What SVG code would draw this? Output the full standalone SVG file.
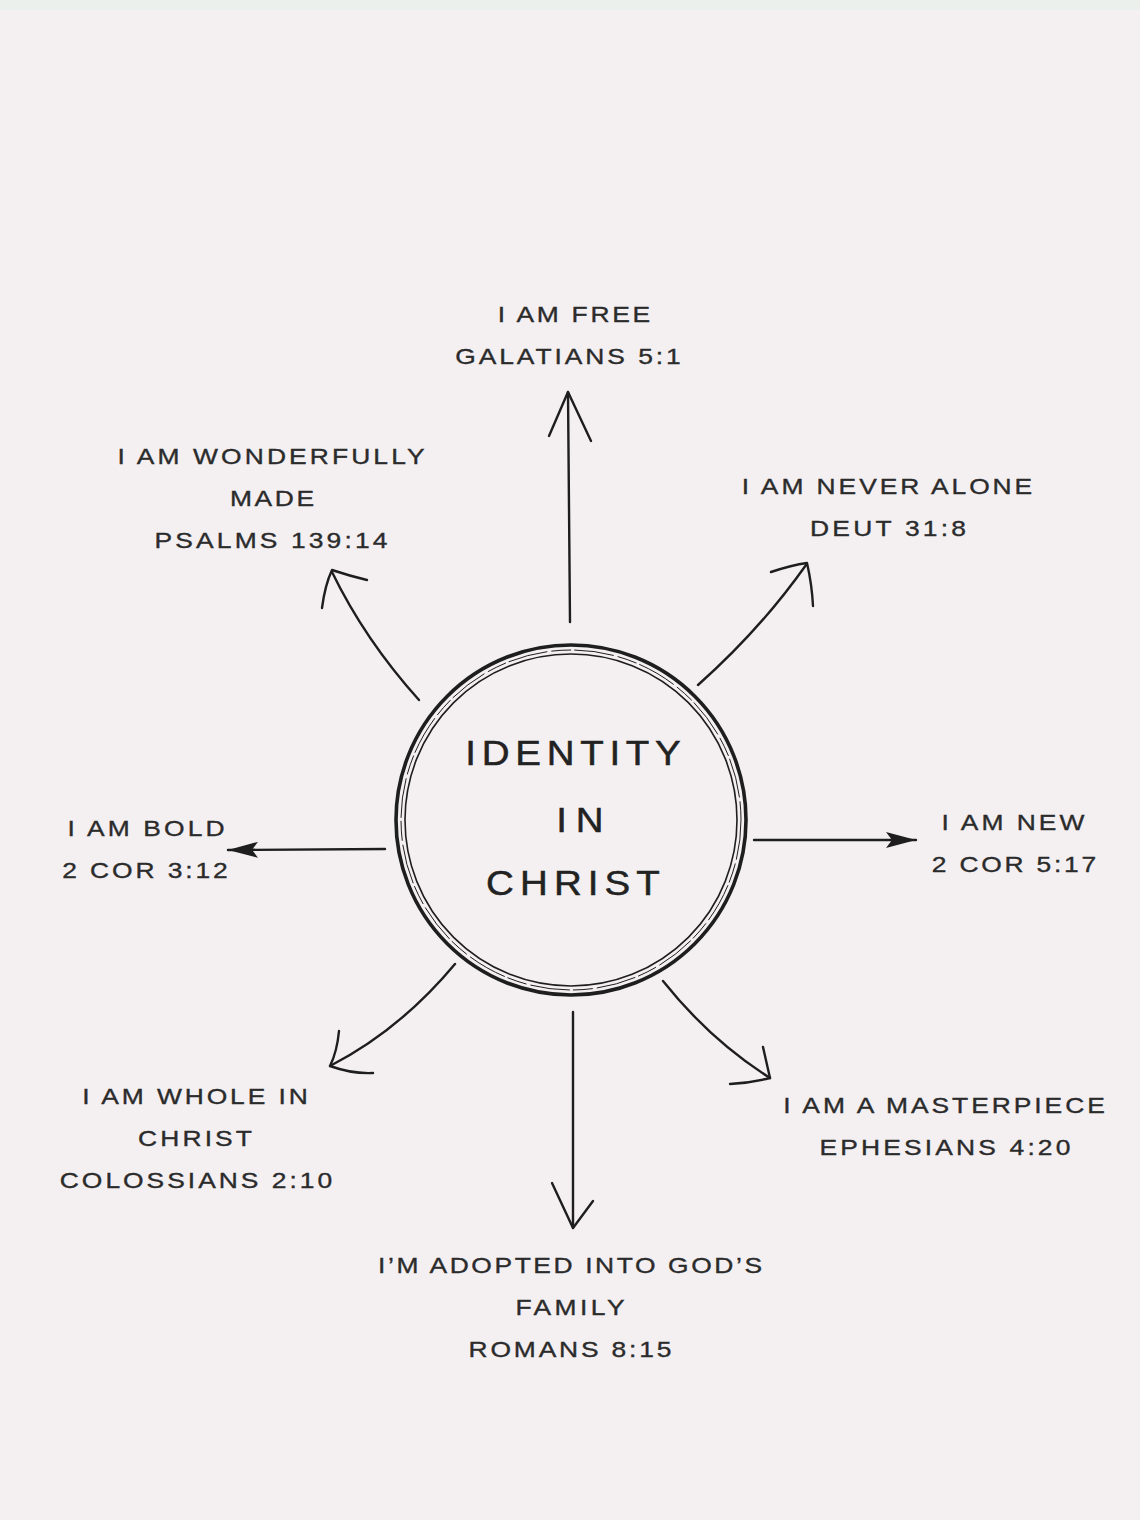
<svg xmlns="http://www.w3.org/2000/svg" width="1140" height="1520" viewBox="0 0 1140 1520">
<style>
.lbl{font-family:"Liberation Sans",Arial,sans-serif;font-size:22px;fill:#2b2b2b;stroke:#2b2b2b;stroke-width:0.35;text-anchor:middle}
.ttl{font-family:"Liberation Sans",Arial,sans-serif;font-size:35px;fill:#222;stroke:#222;stroke-width:0.5;text-anchor:middle}
.ln{fill:none;stroke:#1e1e1e;stroke-width:2.4;stroke-linecap:round;stroke-linejoin:round}
.ring{fill:none;stroke:#1e1e1e}
</style>
<defs>
<marker id="tri" viewBox="0 0 30 16" refX="30" refY="8" markerWidth="30" markerHeight="16" markerUnits="userSpaceOnUse" orient="auto">
<path d="M0,0 L30,8 L0,16 L6,8 Z" fill="#1e1e1e"/>
</marker>
</defs>
<rect width="1140" height="1520" fill="#f4f0f2"/>
<rect width="1140" height="10" fill="#ecf0ec"/>

<g id="center">
<circle class="ring" cx="571" cy="820" r="175" stroke-width="3.6"/>
<circle class="ring" cx="571" cy="820" r="170" stroke-width="1" stroke-dasharray="40 4 20 3"/>
<circle class="ring" cx="571" cy="820" r="166" stroke-width="1.6"/>
<text class="ttl" transform="translate(573,765) scale(1.1,1)" textLength="196" lengthAdjust="spacing">IDENTITY</text>
<text class="ttl" transform="translate(580,832) scale(1.1,1)" textLength="43" lengthAdjust="spacing">IN</text>
<text class="ttl" transform="translate(573,895) scale(1.1,1)" textLength="158" lengthAdjust="spacing">CHRIST</text>
</g>

<g id="connectors">
<path class="ln" d="M570,622 L568,392"/>
<path class="ln" d="M549,436 L568,392 L591,441"/>
<path class="ln" d="M419,700 Q365,640 332,572"/>
<path class="ln" d="M322,608 Q325,585 332,570 Q350,576 367,580"/>
<path class="ln" d="M698,685 Q760,630 806,565"/>
<path class="ln" d="M771,572 Q792,565 807,563 Q812,585 813,606"/>
<path class="ln" d="M385,849 L228,850" marker-end="url(#tri)"/>
<path class="ln" d="M754,840 L916,840" marker-end="url(#tri)"/>
<path class="ln" d="M455,964 Q400,1030 330,1066"/>
<path class="ln" d="M339,1031 Q337,1052 330,1066 Q352,1074 373,1073"/>
<path class="ln" d="M573,1012 L573,1228"/>
<path class="ln" d="M552,1183 L573,1228 L593,1201"/>
<path class="ln" d="M663,981 Q710,1040 770,1078"/>
<path class="ln" d="M763,1047 Q767,1065 770,1078 Q750,1083 730,1084"/>
</g>

<g id="n-free">
<text class="lbl" transform="translate(574,322) scale(1.2,1)" textLength="127" lengthAdjust="spacing">I AM FREE</text>
<text class="lbl" transform="translate(568,364) scale(1.2,1)" textLength="188" lengthAdjust="spacing">GALATIANS 5:1</text>
</g>
<g id="n-wonderfully">
<text class="lbl" transform="translate(271,464) scale(1.2,1)" textLength="256" lengthAdjust="spacing">I AM WONDERFULLY</text>
<text class="lbl" transform="translate(272,506) scale(1.2,1)" textLength="70" lengthAdjust="spacing">MADE</text>
<text class="lbl" transform="translate(271,548) scale(1.2,1)" textLength="194" lengthAdjust="spacing">PSALMS 139:14</text>
</g>
<g id="n-never-alone">
<text class="lbl" transform="translate(887,494) scale(1.2,1)" textLength="242" lengthAdjust="spacing">I AM NEVER ALONE</text>
<text class="lbl" transform="translate(888,536) scale(1.2,1)" textLength="130" lengthAdjust="spacing">DEUT 31:8</text>
</g>
<g id="n-bold">
<text class="lbl" transform="translate(146,836) scale(1.2,1)" textLength="131" lengthAdjust="spacing">I AM BOLD</text>
<text class="lbl" transform="translate(145,878) scale(1.2,1)" textLength="138" lengthAdjust="spacing">2 COR 3:12</text>
</g>
<g id="n-new">
<text class="lbl" transform="translate(1013,830) scale(1.2,1)" textLength="119" lengthAdjust="spacing">I AM NEW</text>
<text class="lbl" transform="translate(1014,872) scale(1.2,1)" textLength="137" lengthAdjust="spacing">2 COR 5:17</text>
</g>
<g id="n-whole">
<text class="lbl" transform="translate(195,1104) scale(1.2,1)" textLength="188" lengthAdjust="spacing">I AM WHOLE IN</text>
<text class="lbl" transform="translate(195,1146) scale(1.2,1)" textLength="95" lengthAdjust="spacing">CHRIST</text>
<text class="lbl" transform="translate(196,1188) scale(1.2,1)" textLength="227" lengthAdjust="spacing">COLOSSIANS 2:10</text>
</g>
<g id="n-masterpiece">
<text class="lbl" transform="translate(944,1113) scale(1.2,1)" textLength="268" lengthAdjust="spacing">I AM A MASTERPIECE</text>
<text class="lbl" transform="translate(945,1155) scale(1.2,1)" textLength="209" lengthAdjust="spacing">EPHESIANS 4:20</text>
</g>
<g id="n-adopted">
<text class="lbl" transform="translate(570,1273) scale(1.2,1)" textLength="320" lengthAdjust="spacing">I’M ADOPTED INTO GOD’S</text>
<text class="lbl" transform="translate(570,1315) scale(1.2,1)" textLength="91" lengthAdjust="spacing">FAMILY</text>
<text class="lbl" transform="translate(570,1357) scale(1.2,1)" textLength="169" lengthAdjust="spacing">ROMANS 8:15</text>
</g>
</svg>
